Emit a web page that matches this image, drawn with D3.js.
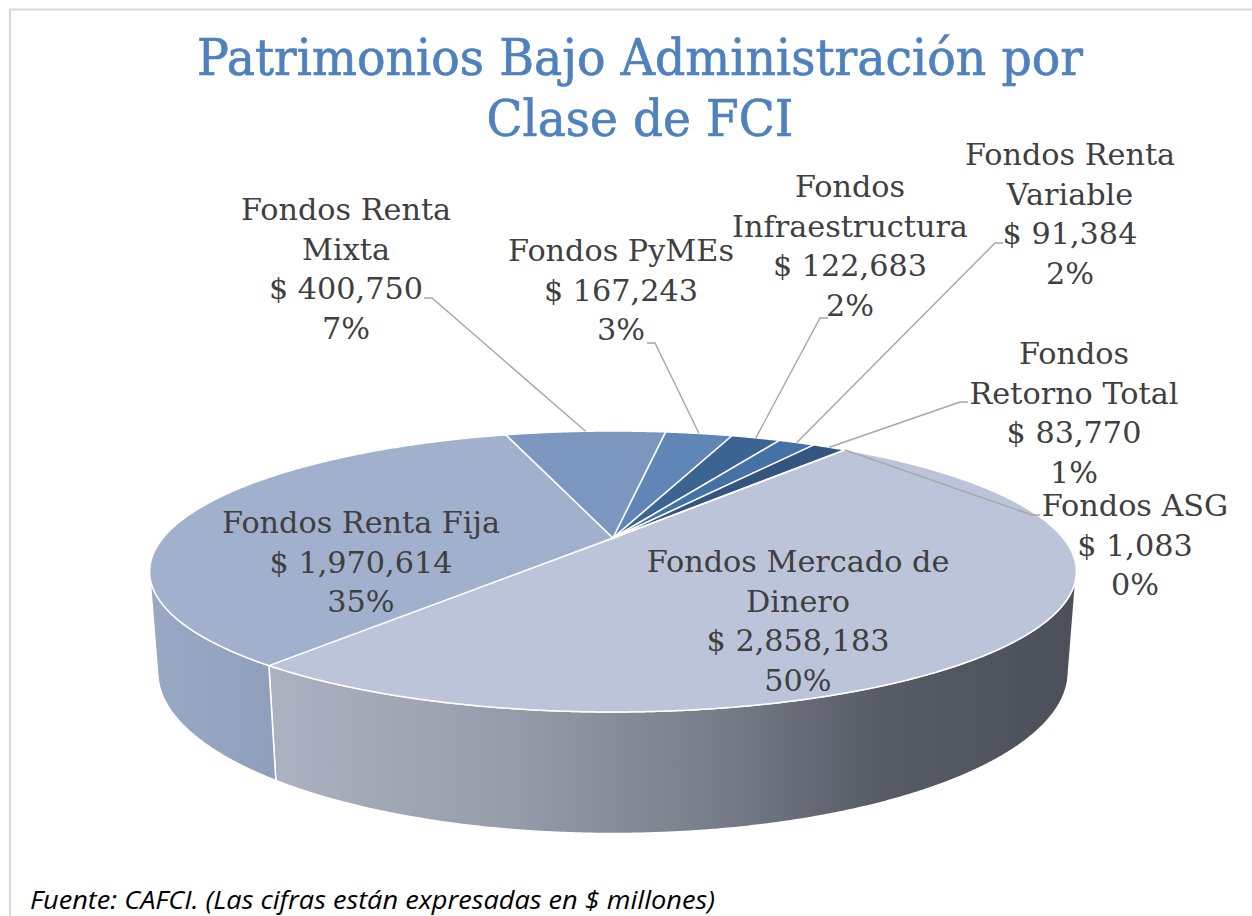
<!DOCTYPE html>
<html><head><meta charset="utf-8">
<script src="https://cdn.jsdelivr.net/npm/d3@7"></script>
<style>body{margin:0;background:#fff} svg{display:block}</style>
</head><body>
<svg id="c" width="1252" height="916"></svg>
<script>
// ---- data ----
const categories = ["Fondos Mercado de Dinero","Fondos Renta Fija","Fondos Renta Mixta","Fondos PyMEs","Fondos Infraestructura","Fondos Renta Variable","Fondos Retorno Total","Fondos ASG"];
const values = [2858183,1970614,400750,167243,122683,91384,83770,1083];
const titleLines = ["Patrimonios Bajo Administración por","Clase de FCI"];
const sourceNote = "Fuente: CAFCI. (Las cifras están expresadas en $ millones)";

// ---- styling / layout ----
const topColors = ["#BBC4D8","#A1B0CD","#7B96BF","#6086B8","#3C6492","#4572A6","#335580","#2D4B75"];
const nameLines = [["Fondos Mercado de","Dinero"],["Fondos Renta Fija"],["Fondos Renta","Mixta"],["Fondos PyMEs"],["Fondos","Infraestructura"],["Fondos Renta","Variable"],["Fondos","Retorno Total"],["Fondos ASG"]];
const labelPos = [[798,572],[361,533],[346,220],[621,261],[850,197],[1070,165],[1074,364],[1135,516]];
const leaderAttach = [null,null,[424,298,1],[647,343,1],[828,318,-1],[1003,243,-1],[968,402,-1],[1040,515,-1]];

const svg = d3.select("#c");

// border
svg.append("path").attr("d","M10,916V9.5H1252").attr("fill","none").attr("stroke","#D9D9D9").attr("stroke-width",2);

// 3D projection
const cx = 613, cy = 538, R = 450, H = 102, alpha = Math.asin(132.5/450), K = 1804;
function proj3(x, y, z){
  const v = z*Math.sin(alpha) - y*Math.cos(alpha);
  const w = z*Math.cos(alpha) + y*Math.sin(alpha);
  const s = K/(K - w);
  return [cx + x*s, cy + v*s];
}
function rim(phi, y){ return proj3(R*Math.cos(phi), y, R*Math.sin(phi)); }

const rot = 37.8*Math.PI/180;
const pie = d3.pie().sort(null).value(d=>d).startAngle(rot).endAngle(rot+2*Math.PI);
const arcs = pie(values);
const total = d3.sum(values);

const defs = svg.append("defs");
const g1 = defs.append("linearGradient").attr("id","gMd").attr("gradientUnits","userSpaceOnUse").attr("x1",280).attr("x2",1080).attr("y1",0).attr("y2",0);
[[0,"#ABB1C0"],[0.3,"#969BA9"],[0.55,"#777C89"],[0.75,"#565B66"],[1,"#4A4F59"]].forEach(s=>g1.append("stop").attr("offset",s[0]).attr("stop-color",s[1]));
const g2 = defs.append("linearGradient").attr("id","gRf").attr("gradientUnits","userSpaceOnUse").attr("x1",150).attr("x2",285).attr("y1",0).attr("y2",0);
[[0,"#99A8C4"],[1,"#8F9FBB"]].forEach(s=>g2.append("stop").attr("offset",s[0]).attr("stop-color",s[1]));
const wallFill = ["url(#gMd)","url(#gRf)","#6F89B1","#5479A9","#345985","#3D6697","#2D4C74","#28436A"];

const line = d3.line();
const step = Math.PI/720;
function samples(a,b){ const n=Math.max(2,Math.ceil((b-a)/step)); return d3.range(n+1).map(i=>a+(b-a)*i/n); }

// walls (front visible part)
const c = R/(K*Math.cos(alpha));
const v0 = Math.asin(c), v1 = Math.PI - Math.asin(c);
const wallG = svg.append("g");
arcs.forEach((a,i)=>{
  const p0 = a.startAngle - Math.PI/2, p1 = a.endAngle - Math.PI/2;
  [-2,-1,0,1,2].forEach(k=>{
    const lo = Math.max(p0, v0 + k*2*Math.PI), hi = Math.min(p1, v1 + k*2*Math.PI);
    if (hi > lo){
      const ph = samples(lo,hi);
      const pts = ph.map(p=>rim(p,0)).concat(ph.slice().reverse().map(p=>rim(p,-H)));
      wallG.append("path").attr("d", line(pts)+"Z").attr("fill", wallFill[i]).attr("stroke","#fff").attr("stroke-width",1.5).attr("stroke-linejoin","round");
    }
  });
});

// top faces
const topG = svg.append("g");
const center = proj3(0,0,0);
arcs.forEach((a,i)=>{
  const ph = samples(a.startAngle - Math.PI/2, a.endAngle - Math.PI/2);
  const pts = [center].concat(ph.map(p=>rim(p,0)));
  topG.append("path").attr("d", line(pts)+"Z").attr("fill", topColors[i]).attr("stroke","#fff").attr("stroke-width",1.5).attr("stroke-linejoin","round");
});

// leader lines
const leadG = svg.append("g");
arcs.forEach((a,i)=>{
  const at = leaderAttach[i]; if(!at) return;
  const mid = rim((a.startAngle + a.endAngle)/2 - Math.PI/2, 0);
  const pts = [mid, [at[0]+8*at[2], at[1]], [at[0], at[1]]];
  leadG.append("path").attr("d", line(pts)).attr("fill","none").attr("stroke","#A6A6A6").attr("stroke-width",1.4);
});

// labels
const font = "'DejaVu Serif', serif";
const tmp = svg.append("text").attr("font-family",font).attr("font-size",100).text("Fondos Renta Fija");
const fs = 100*278/tmp.node().getComputedTextLength();
tmp.remove();
const fmtV = d3.format(",");
const fmtP = d3.format(".0%");
const labG = svg.append("g").attr("font-family",font).attr("font-size",fs).attr("fill","#3F3F3F").attr("text-anchor","middle");
arcs.forEach((a,i)=>{
  const lines = nameLines[i].concat(["$ "+fmtV(values[i]), fmtP(values[i]/total)]);
  const t = labG.append("text");
  lines.forEach((l,j)=>{
    t.append("tspan").attr("x",labelPos[i][0]).attr("y",labelPos[i][1]+j*39.7).text(l);
  });
});

// title
const tg = svg.append("g").attr("font-family",font).attr("font-size",51).attr("fill","#4F81BD").attr("stroke","#4F81BD").attr("stroke-width",0.7).attr("text-anchor","middle");
const tW = [886, 307], tY = [75, 136];
titleLines.forEach((l,i)=>{
  tg.append("text").attr("x",640).attr("y",tY[i]).attr("textLength",tW[i]).attr("lengthAdjust","spacingAndGlyphs").text(l);
});

// source
svg.append("text").attr("x",30).attr("y",909).attr("font-family","'Open Sans', sans-serif").attr("font-style","italic").attr("font-size",25).attr("fill","#000").attr("textLength",685).attr("lengthAdjust","spacingAndGlyphs").text(sourceNote);
</script>
</body></html>
